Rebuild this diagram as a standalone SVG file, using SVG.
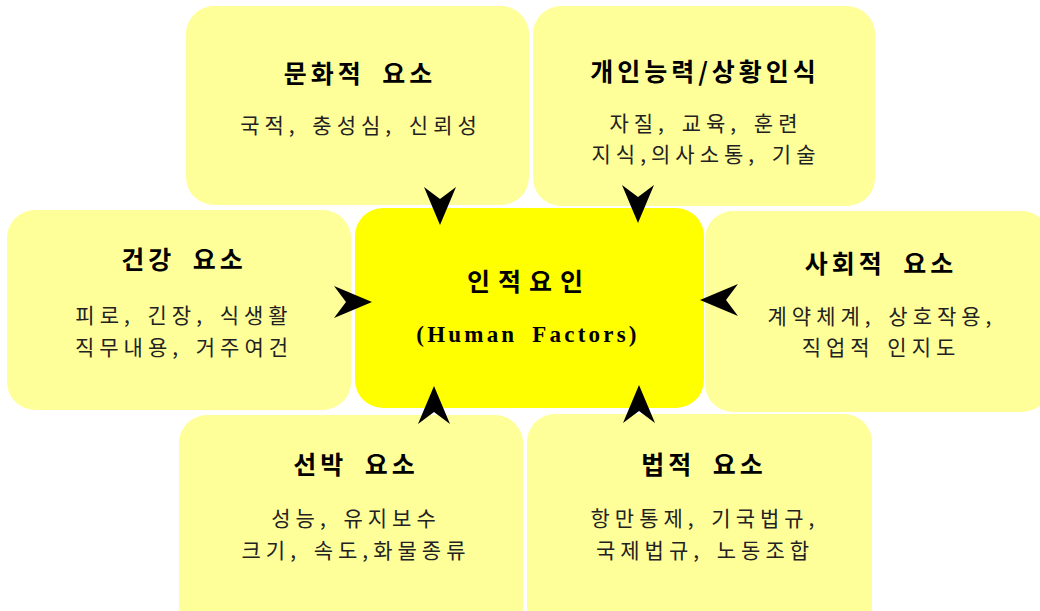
<svg xmlns="http://www.w3.org/2000/svg" xmlns:xlink="http://www.w3.org/1999/xlink" width="1040" height="611" viewBox="0 0 1040 611">
<style>
.box{fill:#FFFF99;}
.core{fill:#FFFF00;}
.t{font-family:"Noto Sans CJK KR","Noto Sans",sans-serif;font-weight:bold;font-size:25px;fill:#000;text-anchor:middle;letter-spacing:4px;word-spacing:8px;}
.c{letter-spacing:8px;}
.s{font-family:"Noto Sans CJK KR","Noto Sans",sans-serif;font-size:21px;fill:#222;text-anchor:middle;letter-spacing:5px;word-spacing:3px;}
.e{font-family:"Liberation Serif",serif;font-weight:bold;font-size:23px;fill:#000;text-anchor:middle;letter-spacing:3.2px;word-spacing:6px;}
.ah{fill:#000;}
</style>
<defs>
<path id="ah" class="ah" d="M0,0 L-16,-38 L0,-26 L16,-38 Z"/>
</defs>
<rect width="1040" height="611" fill="#fff"/>
<g id="node-culture">
<rect class="box" x="186" y="6" width="343" height="199" rx="28"/>
<text class="t" x="360" y="83">문화적 요소</text>
<text class="s" x="361" y="133">국적, 충성심, 신뢰성</text>
</g>
<g id="node-ability">
<rect class="box" x="533" y="6" width="342" height="200" rx="28"/>
<text class="t" x="705" y="81">개인능력/상황인식</text>
<text class="s" x="706" y="131">자질, 교육, 훈련</text>
<text class="s" x="706" y="162">지식,의사소통, 기술</text>
</g>
<g id="node-health">
<rect class="box" x="7" y="210" width="344" height="200" rx="28"/>
<text class="t" x="184" y="269">건강 요소</text>
<text class="s" x="184" y="323">피로, 긴장, 식생활</text>
<text class="s" x="184" y="355">직무내용, 거주여건</text>
</g>
<g id="node-core">
<rect class="core" x="355" y="208" width="349" height="200" rx="28"/>
<text class="t c" x="529" y="291">인적요인</text>
<text class="e" x="528" y="342">(Human Factors)</text>
</g>
<g id="node-social">
<rect class="box" x="705" y="211" width="345" height="201" rx="28"/>
<text class="t" x="881" y="273">사회적 요소</text>
<text class="s" x="882" y="324">계약체계, 상호작용,</text>
<text class="s" x="881" y="355">직업적 인지도</text>
</g>
<g id="node-ship">
<rect class="box" x="179" y="415" width="344" height="220" rx="28"/>
<text class="t" x="356" y="474">선박 요소</text>
<text class="s" x="356" y="526">성능, 유지보수</text>
<text class="s" x="356" y="558">크기, 속도,화물종류</text>
</g>
<g id="node-legal">
<rect class="box" x="527" y="414" width="345" height="220" rx="28"/>
<text class="t" x="704" y="474">법적 요소</text>
<text class="s" x="705" y="526">항만통제, 기국법규,</text>
<text class="s" x="705" y="558">국제법규, 노동조합</text>
</g>
<g id="connectors">
<use href="#ah" transform="translate(440,225)"/>
<use href="#ah" transform="translate(638,223)"/>
<use href="#ah" transform="translate(372,302) rotate(-90)"/>
<use href="#ah" transform="translate(700,300) rotate(90)"/>
<use href="#ah" transform="translate(434,386) rotate(180)"/>
<use href="#ah" transform="translate(639,385) rotate(180)"/>
</g>
</svg>
